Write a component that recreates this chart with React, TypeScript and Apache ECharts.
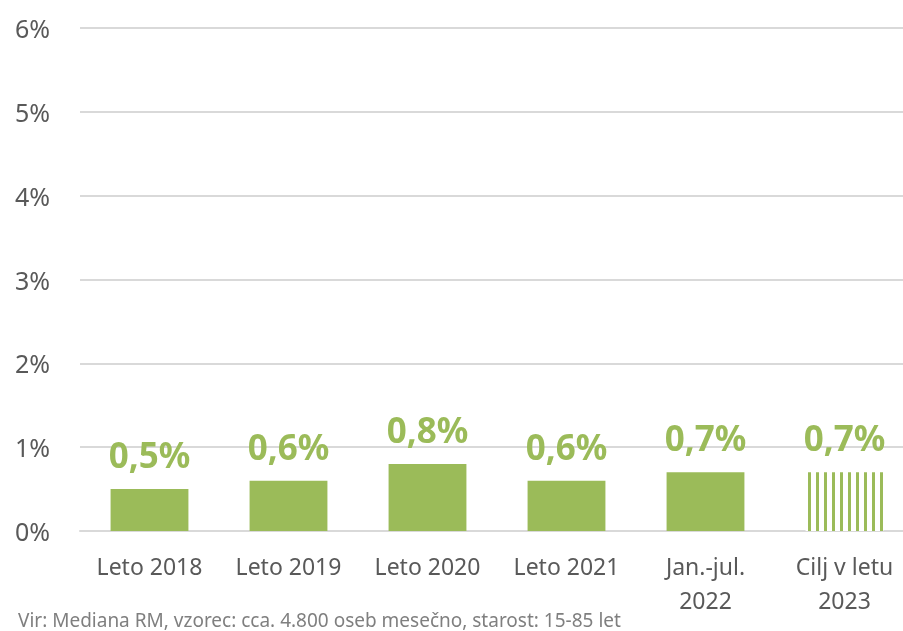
import React, { useEffect, useRef } from "react";
import * as echarts from "echarts";

const categories = ["Leto 2018", "Leto 2019", "Leto 2020", "Leto 2021", "Jan.-jul.\n2022", "Cilj v letu\n2023"];
const values = [0.5, 0.6, 0.8, 0.6, 0.7, 0.7];
const targetIndex = 5;
const footnote = "Vir: Mediana RM, vzorec: cca. 4.800 oseb mesečno, starost: 15-85 let";

const GREEN = "#9BBB59";
const FONT = "'Noto Sans', sans-serif";

export default function App() {
  const ref = useRef<HTMLDivElement>(null);
  useEffect(() => {
    if (!ref.current) return;
    const chart = echarts.init(ref.current, null, { renderer: "svg" });
    const data = values.map((v, i) =>
      i === targetIndex
        ? {
            value: v,
            itemStyle: {
              color: "#ffffff",
              decal: {
                symbol: "rect",
                symbolSize: 1,
                dashArrayX: [3, 4.6],
                dashArrayY: [10, 0],
                rotation: 0,
                color: GREEN,
                backgroundColor: "#ffffff",
              },
            },
          }
        : { value: v }
    );
    chart.setOption({
      animation: false,
      textStyle: { fontFamily: FONT },
      grid: { left: 80, right: 6, top: 28, bottom: 100, containLabel: false },
      xAxis: {
        type: "category",
        data: categories,
        axisLine: { show: true, lineStyle: { color: "#D9D9D9", width: 2 } },
        axisTick: { show: false },
        axisLabel: {
          color: "#595959",
          fontSize: 23,
          fontFamily: FONT,
          margin: 18,
          lineHeight: 34,
          interval: 0,
        },
      },
      yAxis: {
        type: "value",
        min: 0,
        max: 6,
        interval: 1,
        axisLine: { show: false },
        axisTick: { show: false },
        splitLine: { lineStyle: { color: "#D9D9D9", width: 2 } },
        axisLabel: {
          color: "#595959",
          fontSize: 25,
          fontFamily: FONT,
          margin: 30,
          formatter: "{value}%",
        },
      },
      series: [
        {
          type: "bar",
          data,
          barWidth: "56%",
          itemStyle: { color: GREEN },
          label: {
            show: true,
            position: "top",
            distance: 17,
            color: GREEN,
            fontSize: 35,
            fontWeight: "bold",
            fontFamily: FONT,
            formatter: (p: any) => String(p.value).replace(".", ",") + "%",
          },
        },
      ],
      graphic: [
        {
          type: "text",
          left: 18,
          top: 610,
          style: { text: footnote, fill: "#7F7F7F", fontSize: 19, fontFamily: FONT },
        },
      ],
    });
    return () => chart.dispose();
  }, []);
  return (
    <div style={{ position: "fixed", left: 0, top: 0, width: 903, height: 631, overflow: "hidden" }}>
      <div ref={ref} style={{ width: 920, height: 631 }} />
    </div>
  );
}
